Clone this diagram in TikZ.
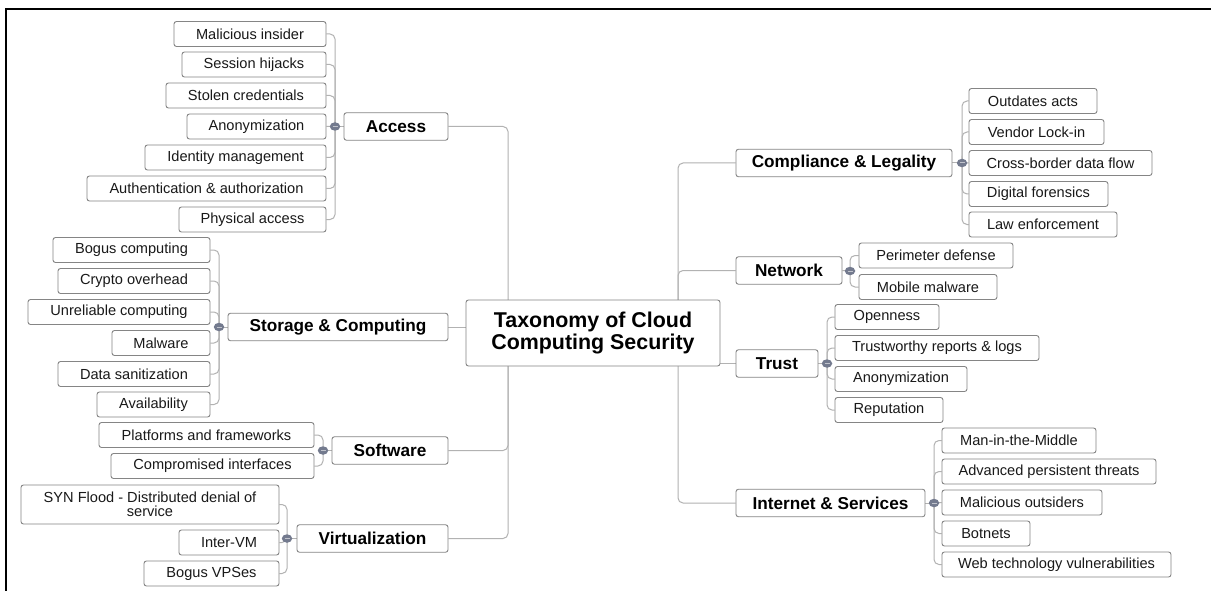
\documentclass[tikz,border=0pt]{standalone}
\usepackage{fontspec}
\setmainfont{Liberation Sans}
\usetikzlibrary{shapes.geometric}
\pgfdeclarelayer{bg}
\pgfsetlayers{bg,main}

\definecolor{boxline}{HTML}{858585}
\definecolor{linkline}{HTML}{B2B2B2}
\definecolor{knob}{HTML}{737A8E}

\newcommand\lffont{\fontsize{14.6}{14.5}\selectfont}
\newcommand\mnfont{\fontsize{17.2}{18}\selectfont\bfseries}
\newcommand\ttlfont{\fontsize{21.4}{22}\selectfont\bfseries}

% name, left x, right x, centre y, style, text
\newcommand\tbox[6]{\node[#5, minimum width={#3-#2}] (#1) at ({(#2+#3)/2},#4) {#6};}

\tikzset{
  leafbox/.style={draw=boxline, fill=white, rounded corners=2.5pt, line width=0.9pt,
    minimum height=25pt, inner sep=0pt, font=\lffont, align=center, text=black!90},
  mainbox/.style={leafbox, minimum height=27.5pt, font=\mnfont, text=black},
  rootbox/.style={leafbox, font=\ttlfont, text=black},
  conn/.style={draw=linkline, line width=1pt, rounded corners=5pt},
  knobdot/.style={ellipse, fill=knob, minimum width=10.5pt, minimum height=8.5pt, inner sep=0pt,
    path picture={\draw[white!55!knob, line width=1pt]
      ([xshift=-2.5pt]path picture bounding box.center) -- ([xshift=2.5pt]path picture bounding box.center);}},
}

\begin{document}
\begin{tikzpicture}[x=1pt, y=-1pt]
\useasboundingbox (0,0) rectangle (1211,591);
\begin{pgfonlayer}{bg}
  \fill[white] (0,0) rectangle (1211,591);
\end{pgfonlayer}

% outer frame (top and left edges)
\draw[line width=2pt, black] (6.3,591) -- (6.3,9.3) -- (1211,9.3);

% root
\node[rootbox, minimum width=254pt, minimum height=66pt] (root) at (593,333)
  {Taxonomy of Cloud\\Computing Security};

% trunk junctions
\coordinate (tl) at (508,333);
\coordinate (tr) at (678,333);

% ---------- Access ----------
\tbox{acc}{344}{448}{126.5}{mainbox}{Access}
\node[knobdot] (kacc) at (335,126.5) {};
\tbox{a1}{174}{326}{34}{leafbox}{Malicious insider}
\tbox{a2}{182}{326}{64.5}{leafbox}{Session hijacks}
\tbox{a3}{166}{326}{95.5}{leafbox}{Stolen credentials}
\tbox{a4}{187}{326}{126.5}{leafbox}{Anonymization}
\tbox{a5}{145}{326}{157.5}{leafbox}{Identity management}
\tbox{a6}{87}{326}{188.5}{leafbox}{Authentication \& authorization}
\tbox{a7}{179}{326}{219.5}{leafbox}{Physical access}

% ---------- Storage & Computing ----------
\tbox{sto}{228}{448}{327}{mainbox}{Storage \& Computing}
\node[knobdot] (ksto) at (219,327) {};
\tbox{s1}{53}{210}{250}{leafbox}{Bogus computing}
\tbox{s2}{58}{210}{281}{leafbox}{Crypto overhead}
\tbox{s3}{28}{210}{312}{leafbox}{Unreliable computing}
\tbox{s4}{112}{210}{343}{leafbox}{Malware}
\tbox{s5}{58}{210}{374}{leafbox}{Data sanitization}
\tbox{s6}{97}{210}{404.5}{leafbox}{Availability}

% ---------- Software ----------
\tbox{sof}{332}{448}{450.5}{mainbox}{Software}
\node[knobdot] (ksof) at (323,450.5) {};
\tbox{w1}{99}{314}{435}{leafbox}{Platforms and frameworks}
\tbox{w2}{111}{314}{466}{leafbox}{Compromised interfaces}

% ---------- Virtualization ----------
\tbox{vir}{297}{448}{538.5}{mainbox}{Virtualization}
\node[knobdot] (kvir) at (287,538.5) {};
\node[leafbox, minimum width=258pt, minimum height=39pt] (v1) at (150,504.5)
  {SYN Flood - Distributed denial of\\service};
\tbox{v2}{179}{279}{542.5}{leafbox}{Inter-VM}
\tbox{v3}{144}{279}{573.5}{leafbox}{Bogus VPSes}

% ---------- Compliance & Legality ----------
\tbox{com}{736}{952}{163}{mainbox}{Compliance \& Legality}
\node[knobdot] (kcom) at (962,163) {};
\tbox{c1}{969}{1097}{101}{leafbox}{Outdates acts}
\tbox{c2}{969}{1104}{132}{leafbox}{Vendor Lock-in}
\tbox{c3}{969}{1152}{163}{leafbox}{Cross-border data flow}
\tbox{c4}{969}{1108}{194}{leafbox}{Digital forensics}
\tbox{c5}{969}{1117}{224.5}{leafbox}{Law enforcement}

% ---------- Network ----------
\tbox{net}{736}{842}{270.5}{mainbox}{Network}
\node[knobdot] (knet) at (850,271) {};
\tbox{n1}{859}{1013}{255.5}{leafbox}{Perimeter defense}
\tbox{n2}{859}{997}{287}{leafbox}{Mobile malware}

% ---------- Trust ----------
\tbox{tru}{736}{818}{363.5}{mainbox}{Trust}
\node[knobdot] (ktru) at (827,363.5) {};
\tbox{t1}{835}{939}{317}{leafbox}{Openness}
\tbox{t2}{835}{1039}{348}{leafbox}{Trustworthy reports \& logs}
\tbox{t3}{835}{967}{379}{leafbox}{Anonymization}
\tbox{t4}{835}{943}{410}{leafbox}{Reputation}

% ---------- Internet & Services ----------
\tbox{int}{736}{925}{503}{mainbox}{Internet \& Services}
\node[knobdot] (kint) at (934,503) {};
\tbox{i1}{942}{1096}{440.5}{leafbox}{Man-in-the-Middle}
\tbox{i2}{942}{1156}{471.5}{leafbox}{Advanced persistent threats}
\tbox{i3}{942}{1102}{502.5}{leafbox}{Malicious outsiders}
\tbox{i4}{942}{1030}{533.5}{leafbox}{Botnets}
\tbox{i5}{942}{1171}{564.5}{leafbox}{Web technology vulnerabilities}

% ---------- connectors ----------
\begin{pgfonlayer}{bg}
  % root to branches
  \draw[conn] (acc.east) -| (tl);
  \draw[conn] (sof.east) -| (tl);
  \draw[conn] (vir.east) -| (tl);
  \draw[conn] (sto.east) -- (sto.east -| root.west);
  \draw[conn] (com.west) -| (tr);
  \draw[conn] (net.west) -| (tr);
  \draw[conn] (int.west) -| (tr);
  \draw[conn] (tru.west) -- (tru.west -| root.east);
  % branches to their knobs
  \foreach \m/\k in {acc/kacc, sto/ksto, sof/ksof, vir/kvir}
    \draw[conn] (\m.west) -- (\k.center);
  \foreach \m/\k in {com/kcom, net/knet, tru/ktru, int/kint}
    \draw[conn] (\m.east) -- (\k.center);
  % knobs to leaves
  \foreach \l in {a1,a2,a3,a4,a5,a6,a7} \draw[conn] (\l.east) -| (kacc.center);
  \foreach \l in {s1,s2,s3,s4,s5,s6} \draw[conn] (\l.east) -| (ksto.center);
  \foreach \l in {w1,w2} \draw[conn] (\l.east) -| (ksof.center);
  \foreach \l in {v1,v2,v3} \draw[conn] (\l.east) -| (kvir.center);
  \foreach \l in {c1,c2,c3,c4,c5} \draw[conn] (\l.west) -| (kcom.center);
  \foreach \l in {n1,n2} \draw[conn] (\l.west) -| (knet.center);
  \foreach \l in {t1,t2,t3,t4} \draw[conn] (\l.west) -| (ktru.center);
  \foreach \l in {i1,i2,i3,i4,i5} \draw[conn] (\l.west) -| (kint.center);
\end{pgfonlayer}
\end{tikzpicture}
\end{document}
